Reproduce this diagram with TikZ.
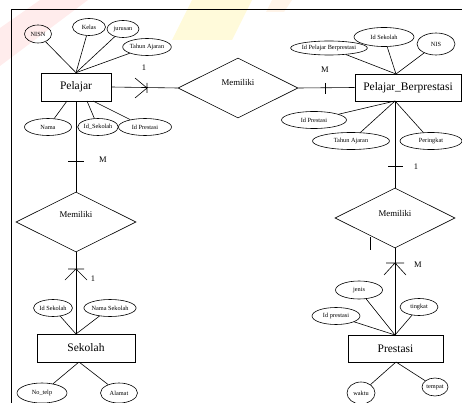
\documentclass[tikz,border=0pt]{standalone}
\usepackage{fontspec}
\setmainfont{Liberation Serif}
\usetikzlibrary{shapes.geometric}
\tikzset{
  entity/.style={draw, rectangle, inner sep=0pt, font=\fontsize{11.5}{12}\selectfont},
  attr/.style={draw, ellipse, inner sep=0pt, font=\fontsize{6.3}{7}\selectfont},
  rel/.style={draw, diamond, inner sep=0pt, minimum width=120pt, minimum height=60pt},
  card/.style={font=\fontsize{8.5}{9}\selectfont}
}
\begin{document}
\begin{tikzpicture}[x=1pt, y=-1pt, line width=0.6pt]
  \useasboundingbox (0,0) rectangle (462,403);
  % faint watermark
  \fill[red!60, opacity=0.12] (0,28) -- (40,0) -- (88,0) -- (0,66) -- cycle;
  \fill[yellow!80!orange, opacity=0.15] (192,0) -- (252,0) -- (232,40) -- (172,40) -- cycle;
  \fill[orange!70, opacity=0.12] (272,0) -- (292,0) -- (284,12) -- (266,12) -- cycle;
  % frame
  \draw (11,403) -- (11,9) -- (462,9);
  % entities
  \node[entity, minimum width=70pt, minimum height=28pt] (pelajar) at (76,87) {Pelajar};
  \node[entity, minimum width=106pt, minimum height=27pt] (pb) at (408,87.5) {Pelajar\_Berprestasi};
  \node[entity, minimum width=98pt, minimum height=28pt] (sekolah) at (86,348) {Sekolah};
  \node[entity, minimum width=95pt, minimum height=27pt] (prestasi) at (395.5,348.5) {Prestasi};
  % relations
  \node[rel, label={[yshift=6pt, font=\fontsize{8.8}{9}\selectfont]center:Memiliki}] (mem1) at (238,88) {};
  \node[rel, label={[yshift=8pt, font=\fontsize{8.8}{9}\selectfont]center:Memiliki}] (mem2) at (76,222) {};
  \node[rel, label={[yshift=5pt, font=\fontsize{8.8}{9}\selectfont]center:Memiliki}] (mem3) at (395,218) {};
  % attributes Pelajar
  \node[attr, minimum width=27pt, minimum height=18pt] (nisn) at (38,34) {NISN};
  \node[attr, minimum width=33pt, minimum height=17pt] (kelas) at (89,27) {Kelas};
  \node[attr, minimum width=32pt, minimum height=17pt] (jurusan) at (123,29) {jurusan};
  \node[attr, minimum width=42pt, minimum height=17pt] (tahun1) at (147,47) {Tahun Ajaran};
  \node[attr, minimum width=47pt, minimum height=17pt] (nama) at (48,127) {Nama};
  \node[attr, minimum width=40pt, minimum height=17pt] (idsek1) at (98,127) {Id\_Sekolah};
  \node[attr, minimum width=53pt, minimum height=17pt] (idpres1) at (145,127) {Id Prestasi};
  % attributes Pelajar_Berprestasi
  \node[attr, minimum width=67pt, minimum height=14pt] (idpb) at (329,48) {Id Pelajar Berprestasi};
  \node[attr, minimum width=60pt, minimum height=19pt] (idsek2) at (384,37) {Id Sekolah};
  \node[attr, minimum width=38pt, minimum height=22pt] (nis) at (436,44) {NIS};
  \node[attr, minimum width=65pt, minimum height=17pt] (idpres2) at (314,120) {Id Prestasi};
  \node[attr, minimum width=77pt, minimum height=17pt] (tahun2) at (351,141) {Tahun Ajaran};
  \node[attr, minimum width=62pt, minimum height=17pt] (peringkat) at (431,141) {Peringkat};
  % attributes Sekolah
  \node[attr, minimum width=39pt, minimum height=17pt] (idsek3) at (53,308) {Id Sekolah};
  \node[attr, minimum width=50pt, minimum height=17pt] (namasek) at (110,308) {Nama Sekolah};
  \node[attr, minimum width=50pt, minimum height=20pt] (notelp) at (42,393) {No\_telp};
  \node[attr, minimum width=37pt, minimum height=20pt] (alamat) at (119,393) {Alamat};
  % attributes Prestasi
  \node[attr, minimum width=47pt, minimum height=18pt] (jenis) at (359,290) {jenis};
  \node[attr, minimum width=48pt, minimum height=17pt] (idpres3) at (336,316) {Id prestasi};
  \node[attr, minimum width=38pt, minimum height=17pt] (tingkat) at (419,307) {tingkat};
  \node[attr, minimum width=28pt, minimum height=22pt] (waktu) at (361,393) {waktu};
  \node[attr, minimum width=26pt, minimum height=18pt] (tempat) at (435,387) {tempat};
  % meeting points on the entities
  \coordinate (pbtop) at (396,74);
  \coordinate (pbbot) at (395,101);
  \coordinate (pbot1) at (67,101);
  \coordinate (pbot2) at (87,101);
  \coordinate (pbot3) at (93,101);
  \coordinate (sektop) at (76,334);
  \coordinate (sekbot) at (79,362);
  \coordinate (prestop) at (395,335);
  \coordinate (presbot) at (396,362);
  % connectors
  \begin{scope}[-]
    \draw (nisn) to (pelajar.north);
    \draw (kelas) to (pelajar.north);
    \draw (jurusan) to (pelajar.north);
    \draw (tahun1) to (pelajar.north);
    \draw (nama) to (pbot1);
    \draw (idsek1) to (pbot2);
    \draw (idpres1) to (pbot3);
    \draw (idpb) to (pbtop);
    \draw (idsek2) to (pbtop);
    \draw (nis) to (pbtop);
    \draw (idpres2) to (pbbot);
    \draw (tahun2) to (pbbot);
    \draw (peringkat) to (pbbot);
    \draw (idsek3) to (sektop);
    \draw (namasek) to (sektop);
    \draw (notelp) to (sekbot);
    \draw (alamat) to (sekbot);
    \draw (jenis) to (prestop);
    \draw (idpres3) to (prestop);
    \draw (tingkat) to (prestop);
    \draw (waktu) to (presbot);
    \draw (tempat) to (presbot);
    \draw (pelajar.east) to (mem1.west);
    \draw (mem1.east) to (pb.west);
    \draw (pelajar.south) to (mem2.north);
    \draw (mem2.south) to (sektop);
    \draw (pbbot) to (mem3.north);
    \draw (mem3.south) to (prestop);
  \end{scope}
  % cardinality marks
  \draw (147,83) -- (147,93) (135,78) -- (147,88) -- (135,98);
  \draw (325,83) -- (325,94);
  \draw (68,161) -- (84,161);
  \draw (68,269) -- (84,269) (65,280) -- (76,269) -- (87,280);
  \draw (388,166) -- (403,166);
  \draw (386,263) -- (404,263) (384,275) -- (395,263) -- (406,275);
  \draw (370,237) -- (370,250);
  \node[card] (c1) at (144,68) {1};
  \node[card] (c2) at (325,70) {M};
  \node[card] (c3) at (103,160) {M};
  \node[card] (c4) at (93,279) {1};
  \node[card] (c5) at (416,167) {1};
  \node[card] (c6) at (418,265) {M};
\end{tikzpicture}
\end{document}
